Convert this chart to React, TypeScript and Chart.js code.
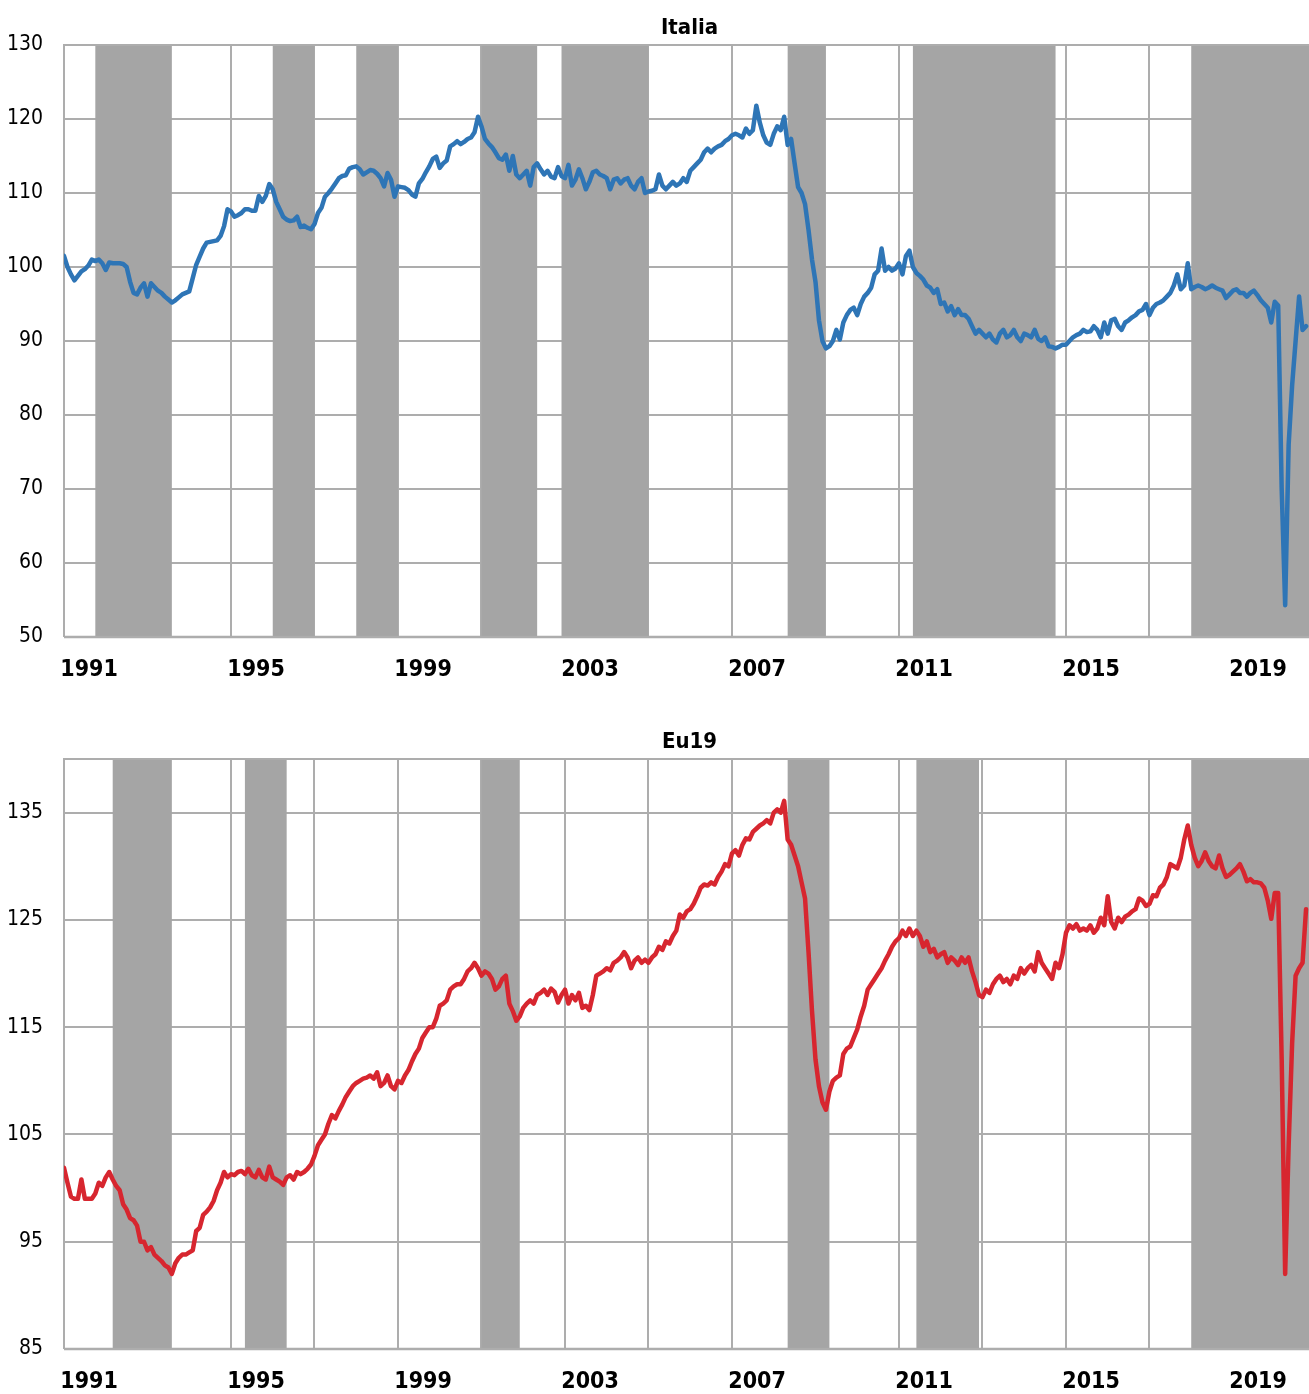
import React, { useEffect, useRef } from 'react';
import { Chart, registerables } from 'chart.js';

Chart.register(...registerables);

// ---------------- data ----------------
const START_YEAR = 1991; // month index 0 = Jan 1991

// Italia, monthly, Jan 1991 – Oct 2020
const italiaValues: number[] = [
  // 1991
  101.5, 100.0, 99.0, 98.2, 98.8, 99.4, 99.7, 100.2, 101.0, 100.8, 101.0, 100.5,
  // 1992
  99.6, 100.6, 100.5, 100.5, 100.5, 100.4, 100.0, 98.0, 96.5, 96.3, 97.2, 97.8,
  // 1993
  96.0, 97.8, 97.3, 96.8, 96.5, 96.0, 95.6, 95.2, 95.5, 95.9, 96.3, 96.5,
  // 1994
  96.7, 98.5, 100.3, 101.4, 102.5, 103.3, 103.4, 103.5, 103.6, 104.2, 105.5, 107.8,
  // 1995
  107.5, 106.8, 107.0, 107.3, 107.8, 107.8, 107.6, 107.6, 109.6, 108.8, 109.6, 111.2,
  // 1996
  110.5, 108.8, 107.8, 106.8, 106.4, 106.2, 106.3, 106.8, 105.4, 105.6, 105.3, 105.1,
  // 1997
  105.8, 107.3, 108.0, 109.5, 110.0, 110.6, 111.3, 112.0, 112.3, 112.4, 113.3, 113.5,
  // 1998
  113.6, 113.2, 112.5, 112.8, 113.1, 113.0, 112.6, 112.0, 110.9, 112.7, 111.8, 109.5,
  // 1999
  110.9, 110.8, 110.7, 110.4, 109.8, 109.5, 111.3, 111.9, 112.8, 113.6, 114.6, 114.9,
  // 2000
  113.4, 114.0, 114.4, 116.3, 116.6, 117.0, 116.6, 116.9, 117.3, 117.5, 118.2, 120.3,
  // 2001
  119.0, 117.3, 116.7, 116.2, 115.5, 114.7, 114.5, 115.2, 113.0, 115.0, 112.5, 112.0,
  // 2002
  112.5, 113.0, 111.0, 113.5, 114.0, 113.2, 112.5, 113.0, 112.2, 112.0, 113.5, 112.3,
  // 2003
  112.0, 113.8, 111.0, 111.8, 113.2, 112.0, 110.5, 111.5, 112.8, 113.0, 112.5, 112.3,
  // 2004
  112.0, 110.5, 111.8, 112.0, 111.3, 111.8, 112.0, 111.0, 110.5, 111.5, 112.0, 110.0,
  // 2005
  110.2, 110.3, 110.5, 112.5, 111.0, 110.5, 111.0, 111.5, 111.0, 111.3, 112.0, 111.5,
  // 2006
  113.0, 113.5, 114.0, 114.5, 115.5, 116.0, 115.5, 116.0, 116.3, 116.5, 117.0, 117.3,
  // 2007
  117.8, 118.0, 117.8, 117.5, 118.7, 118.0, 118.5, 121.8, 119.5, 117.8, 116.8, 116.5,
  // 2008
  118.0, 119.0, 118.5, 120.3, 116.5, 117.3, 114.0, 110.8, 110.0, 108.5, 105.0, 101.0,
  // 2009
  98.0, 92.8, 90.0, 89.0, 89.3, 90.0, 91.5, 90.2, 92.5, 93.5, 94.2, 94.5,
  // 2010
  93.5, 95.0, 96.0, 96.5, 97.2, 99.0, 99.5, 102.5, 99.5, 100.0, 99.5, 99.8,
  // 2011
  100.5, 99.0, 101.5, 102.2, 100.0, 99.2, 98.8, 98.3, 97.5, 97.2, 96.5, 97.0,
  // 2012
  95.0, 95.2, 94.0, 94.7, 93.5, 94.3, 93.5, 93.5, 93.0, 92.0, 91.0, 91.5,
  // 2013
  91.0, 90.5, 91.0, 90.2, 89.8, 91.0, 91.5, 90.5, 90.8, 91.5, 90.5, 90.0,
  // 2014
  91.0, 90.8, 90.5, 91.5, 90.3, 90.0, 90.5, 89.3, 89.2, 89.0, 89.2, 89.5,
  // 2015
  89.5, 90.0, 90.5, 90.8, 91.0, 91.5, 91.2, 91.3, 92.0, 91.5, 90.5, 92.5,
  // 2016
  91.0, 92.8, 93.0, 92.0, 91.5, 92.5, 92.8, 93.2, 93.5, 94.0, 94.2, 95.0,
  // 2017
  93.5, 94.5, 95.0, 95.2, 95.5, 96.0, 96.5, 97.5, 99.0, 97.0, 97.5, 100.5,
  // 2018
  97.0, 97.3, 97.5, 97.3, 97.0, 97.2, 97.5, 97.2, 97.0, 96.8, 95.8, 96.3,
  // 2019
  96.8, 97.0, 96.5, 96.5, 96.0, 96.5, 96.8, 96.2, 95.5, 95.0, 94.5, 92.5,
  // 2020
  95.3, 94.8, 70.0, 54.3, 76.0, 84.0, 90.0, 96.0, 91.5, 92.0,
];

// Eu19, monthly, Jan 1991 – Oct 2020
const eu19Values: number[] = [
  // 1991
  101.9, 100.5, 99.2, 99.0, 99.0, 100.8, 99.0, 99.0, 99.0, 99.5, 100.5, 100.2,
  // 1992
  101.0, 101.5, 100.8, 100.2, 99.8, 98.5, 98.0, 97.2, 97.0, 96.5, 95.0, 95.0,
  // 1993
  94.2, 94.5, 93.8, 93.5, 93.2, 92.8, 92.6, 92.0, 93.0, 93.5, 93.8, 93.8,
  // 1994
  94.0, 94.2, 96.0, 96.3, 97.5, 97.8, 98.2, 98.8, 99.8, 100.5, 101.5, 101.0,
  // 1995
  101.3, 101.2, 101.5, 101.6, 101.3, 101.8, 101.2, 101.0, 101.7, 101.0, 100.8, 102.0,
  // 1996
  101.0, 100.8, 100.6, 100.3, 101.0, 101.2, 100.8, 101.5, 101.3, 101.5, 101.8, 102.2,
  // 1997
  103.0, 104.0, 104.5, 105.0, 106.0, 106.8, 106.5, 107.2, 107.8, 108.5, 109.0, 109.5,
  // 1998
  109.8, 110.0, 110.2, 110.3, 110.5, 110.2, 110.8, 109.5, 109.8, 110.5, 109.5, 109.2,
  // 1999
  110.0, 109.8, 110.5, 111.0, 111.8, 112.5, 113.0, 114.0, 114.5, 115.0, 115.0, 115.8,
  // 2000
  117.0, 117.2, 117.5, 118.5, 118.8, 119.0, 119.0, 119.5, 120.2, 120.5, 121.0, 120.5,
  // 2001
  119.8, 120.2, 120.0, 119.5, 118.5, 118.8, 119.5, 119.8, 117.2, 116.5, 115.6, 116.0,
  // 2002
  116.8, 117.2, 117.5, 117.2, 118.0, 118.2, 118.5, 118.0, 118.6, 118.3, 117.3, 118.0,
  // 2003
  118.5, 117.2, 118.0, 117.5, 118.2, 116.8, 117.0, 116.6, 118.0, 119.8, 120.0, 120.2,
  // 2004
  120.5, 120.3, 121.0, 121.2, 121.5, 122.0, 121.5, 120.5, 121.2, 121.5, 121.0, 121.3,
  // 2005
  121.0, 121.5, 121.8, 122.5, 122.2, 123.0, 122.8, 123.5, 124.0, 125.5, 125.2, 125.8,
  // 2006
  126.0, 126.5, 127.2, 128.0, 128.3, 128.2, 128.5, 128.3, 129.0, 129.5, 130.2, 130.0,
  // 2007
  131.2, 131.5, 131.0, 132.0, 132.6, 132.5, 133.2, 133.5, 133.8, 134.0, 134.3, 134.0,
  // 2008
  135.0, 135.3, 135.0, 136.1, 132.5, 132.0, 131.0, 130.0, 128.5, 127.0, 122.0, 116.5,
  // 2009
  112.0, 109.5, 108.0, 107.3, 109.0, 110.0, 110.3, 110.5, 112.5, 113.0, 113.2, 114.0,
  // 2010
  114.8, 116.0, 117.0, 118.5, 119.0, 119.5, 120.0, 120.5, 121.2, 121.8, 122.5, 123.0,
  // 2011
  123.3, 124.0, 123.5, 124.2, 123.5, 124.0, 123.5, 122.5, 123.0, 122.0, 122.3, 121.5,
  // 2012
  121.8, 122.0, 121.0, 121.5, 121.2, 120.8, 121.5, 121.0, 121.5, 120.2, 119.2, 118.0,
  // 2013
  117.8, 118.5, 118.2, 119.0, 119.5, 119.8, 119.2, 119.5, 119.0, 119.8, 119.5, 120.5,
  // 2014
  120.0, 120.5, 120.8, 120.2, 122.0, 121.0, 120.5, 120.0, 119.5, 121.0, 120.5, 121.8,
  // 2015
  123.8, 124.5, 124.2, 124.6, 124.0, 124.2, 124.0, 124.5, 123.8, 124.2, 125.2, 124.5,
  // 2016
  127.2, 124.8, 124.2, 125.2, 124.8, 125.3, 125.5, 125.8, 126.0, 127.0, 126.8, 126.3,
  // 2017
  126.5, 127.3, 127.2, 128.0, 128.3, 129.0, 130.2, 130.0, 129.8, 130.8, 132.5, 133.8,
  // 2018
  132.0, 130.8, 130.0, 130.5, 131.3, 130.5, 130.0, 129.8, 131.0, 129.8, 129.0, 129.2,
  // 2019
  129.5, 129.8, 130.2, 129.5, 128.6, 128.8, 128.5, 128.5, 128.4, 128.0, 126.8, 125.1,
  // 2020
  127.5, 127.5, 112.0, 92.0, 104.0, 113.5, 119.8, 120.5, 121.0, 126.0,
];

const xTickYears = [1991, 1995, 1999, 2003, 2007, 2011, 2015, 2019];
const xGridYears = [1991, 1993, 1995, 1997, 1999, 2001, 2003, 2005, 2007, 2009, 2011, 2013, 2015, 2017, 2019];
const italiaYTicks = [50, 60, 70, 80, 90, 100, 110, 120, 130];
const eu19YTicks = [85, 95, 105, 115, 125, 135];

// shaded periods [start, end) as YYYY-MM
const italiaPeriods: [string, string][] = [
  ['1991-10', '1993-08'],
  ['1996-01', '1997-01'],
  ['1998-01', '1999-01'],
  ['2001-01', '2002-05'],
  ['2002-12', '2005-01'],
  ['2008-05', '2009-04'],
  ['2011-05', '2014-10'],
  ['2018-01', '2021-01'],
];
const eu19Periods: [string, string][] = [
  ['1992-03', '1993-08'],
  ['1995-05', '1996-05'],
  ['2001-01', '2001-12'],
  ['2008-05', '2009-05'],
  ['2011-06', '2012-12'],
  ['2018-01', '2021-01'],
];

// ---------------- styling ----------------
const X_MAX = 357.85;
const LABEL_OFFSET = 7.2; // year label sits inside its year
const GRID = '#ADADAD';
const BAND = '#A5A5A5';
const FONT = '"DejaVu Sans Condensed", "Liberation Sans Narrow", "Arial Narrow", sans-serif';

const monthIndex = (s: string) => {
  const [y, m] = s.split('-').map(Number);
  return (y - START_YEAR) * 12 + (m - 1);
};

function decorPlugin(title: string, periods: [string, string][], titleY: number) {
  return {
    id: 'decor',
    beforeDatasetsDraw(chart: any) {
      const { ctx, chartArea: a, scales } = chart;
      const xs = scales.x;
      ctx.save();
      ctx.fillStyle = BAND;
      for (const [s, e] of periods) {
        const x0 = Math.max(xs.getPixelForValue(monthIndex(s)), a.left);
        const x1 = Math.min(xs.getPixelForValue(monthIndex(e)), a.right);
        if (x1 > x0) ctx.fillRect(x0, a.top, x1 - x0, a.bottom - a.top);
      }
      ctx.strokeStyle = GRID;
      ctx.lineWidth = 2;
      ctx.beginPath();
      ctx.moveTo(a.right, a.top);
      ctx.lineTo(a.left, a.top);
      ctx.lineTo(a.left, a.bottom);
      ctx.stroke();
      ctx.lineWidth = 2.5;
      ctx.beginPath();
      ctx.moveTo(a.left, a.bottom);
      ctx.lineTo(a.right, a.bottom);
      ctx.stroke();
      ctx.restore();
    },
    afterDraw(chart: any) {
      const { ctx, chartArea: a } = chart;
      ctx.save();
      ctx.fillStyle = '#000';
      ctx.font = `bold 22px ${FONT}`;
      ctx.textAlign = 'center';
      ctx.textBaseline = 'middle';
      ctx.fillText(title, (a.left + a.right) / 2 + 3, titleY);
      ctx.restore();
    },
  };
}

type PanelProps = {
  title: string;
  values: number[];
  color: string;
  yTicks: number[];
  yMin: number;
  yMax: number;
  periods: [string, string][];
  top: number;
  height: number;
  plotTop: number;
  padBottom: number;
  titleY: number;
};

function Panel(p: PanelProps) {
  const ref = useRef<HTMLCanvasElement>(null);
  useEffect(() => {
    const canvas = ref.current!;
    const gridMonths = xGridYears.map((y) => (y - START_YEAR) * 12);
    const labelMonths = xTickYears.map((y) => (y - START_YEAR) * 12 + LABEL_OFFSET);
    const chart = new Chart(canvas, {
      type: 'line',
      data: {
        datasets: [
          {
            data: p.values.map((v, i) => ({ x: i, y: v })),
            borderColor: p.color,
            borderWidth: 4.5,
            pointRadius: 0,
            tension: 0,
            fill: false,
            borderJoinStyle: 'round',
            borderCapStyle: 'round',
          } as any,
        ],
      },
      options: {
        responsive: false,
        animation: false,
        devicePixelRatio: 1,
        events: [],
        layout: { padding: { top: p.plotTop, bottom: p.padBottom, left: 0, right: 0 } },
        plugins: { legend: { display: false }, tooltip: { enabled: false }, title: { display: false } },
        scales: {
          x: {
            type: 'linear',
            min: 0,
            max: X_MAX,
            afterBuildTicks: (s: any) => {
              s.ticks = gridMonths.map((v) => ({ value: v }));
            },
            ticks: { display: false },
            grid: { color: GRID, lineWidth: 2, drawTicks: false },
            border: { display: false },
          },
          xl: {
            type: 'linear',
            position: 'bottom',
            min: 0,
            max: X_MAX,
            afterBuildTicks: (s: any) => {
              s.ticks = labelMonths.map((v) => ({ value: v }));
            },
            afterFit: (s: any) => {
              s.height = 45;
            },
            grid: { display: false, drawTicks: false },
            border: { display: false },
            ticks: {
              autoSkip: false,
              maxRotation: 0,
              padding: 21.5,
              color: '#000',
              font: { family: FONT, size: 23, weight: 'bold', lineHeight: 1 },
              callback: (v: any) => String(Math.round((Number(v) - LABEL_OFFSET) / 12) + START_YEAR),
            },
          },
          y: {
            min: p.yMin,
            max: p.yMax,
            afterBuildTicks: (s: any) => {
              s.ticks = p.yTicks.map((v) => ({ value: v }));
            },
            afterFit: (s: any) => {
              s.width = 64;
            },
            grid: { color: GRID, lineWidth: 2, drawTicks: false },
            border: { display: false },
            ticks: {
              padding: 21,
              color: '#000',
              font: { family: FONT, size: 21, lineHeight: 1.2 },
              callback: (v: any) => String(v),
            },
          },
        } as any,
      },
      plugins: [decorPlugin(p.title, p.periods, p.titleY)],
    });
    return () => chart.destroy();
  }, []);
  return (
    <canvas
      ref={ref}
      width={1309}
      height={p.height}
      style={{ position: 'absolute', left: 0, top: p.top, display: 'block' }}
    />
  );
}

export default function App() {
  useEffect(() => {
    document.body.style.margin = '0';
    document.body.style.overflow = 'hidden';
  }, []);
  return (
    <div style={{ position: 'relative', width: 1309, height: 1394, background: '#fff' }}>
      <Panel
        title="Italia"
        values={italiaValues}
        color="#2E75B6"
        yTicks={italiaYTicks}
        yMin={50}
        yMax={130}
        periods={italiaPeriods}
        top={0}
        height={700}
        plotTop={45}
        padBottom={18}
        titleY={28}
      />
      <Panel
        title="Eu19"
        values={eu19Values}
        color="#D7262F"
        yTicks={eu19YTicks}
        yMin={85}
        yMax={140}
        periods={eu19Periods}
        top={700}
        height={694}
        plotTop={59}
        padBottom={0}
        titleY={42}
      />
    </div>
  );
}
